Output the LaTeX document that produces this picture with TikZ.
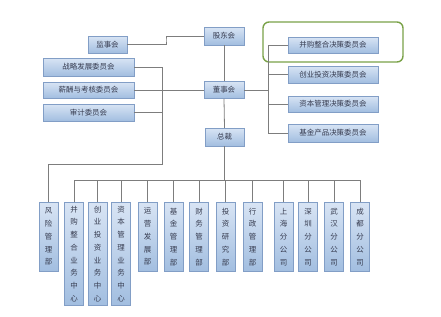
\documentclass[tikz,border=0pt]{standalone}
\usepackage{fontspec}
\setmainfont{Noto Sans CJK SC}
\definecolor{boxtop}{RGB}{216,228,244}
\definecolor{boxbot}{RGB}{162,190,224}
\definecolor{boxline}{RGB}{130,158,198}
\definecolor{boxtext}{RGB}{55,60,80}
\definecolor{linkc}{RGB}{125,125,125}
\definecolor{greenc}{RGB}{122,162,72}
\tikzset{
  box/.style={draw=boxline, line width=0.5pt, top color=boxtop, bottom color=boxbot,
    text=boxtext, inner sep=0pt, font=\fontsize{7.5}{12.8}\selectfont},
  hbox/.style={box, minimum width=#1, minimum height=17bp},
  vbox/.style={box, anchor=north, minimum width=19bp, minimum height=#1, align=center},
  link/.style={draw=linkc, line width=0.8pt},
}
\begin{document}
\begin{tikzpicture}[x=1bp,y=-1bp]
\useasboundingbox (0,0) rectangle (441,316);
% green highlight
\draw[greenc, line width=1.4pt, rounded corners=6bp] (263,22) rectangle (403,62);
% top column
\node[hbox=40bp, minimum height=18bp] (gdh) at (224,36) {股东会};
\node[hbox=39bp] (jsh) at (107.5,44.5) {监事会};
\node[hbox=40bp] (dsh) at (224,90) {董事会};
\node[hbox=39bp, minimum height=18bp] (zc) at (224.5,137) {总裁};
% left committees
\node[hbox=91bp, minimum height=18bp] (zl) at (88.5,67) {战略发展委员会};
\node[hbox=91bp, minimum height=16bp] (xc) at (88.5,90) {薪酬与考核委员会};
\node[hbox=91bp] (sj) at (88.5,112.5) {审计委员会};
% right committees
\node[hbox=90bp, minimum height=16bp] (c1) at (333,45) {并购整合决策委员会};
\node[hbox=90bp] (c2) at (333,74.5) {创业投资决策委员会};
\node[hbox=90bp, minimum height=16bp] (c3) at (333,104) {资本管理决策委员会};
\node[hbox=90bp, minimum height=18bp] (c4) at (333,133) {基金产品决策委员会};
% departments
\node[vbox=69bp] (fx) at (48.5,202) {风\\险\\管\\理\\部};
\node[vbox=103bp] (bg) at (74,202) {并\\购\\整\\合\\业\\务\\中\\心};
\node[vbox=103bp] (cy) at (97.5,202) {创\\业\\投\\资\\业\\务\\中\\心};
\node[vbox=103bp] (zb) at (121,202) {资\\本\\管\\理\\业\\务\\中\\心};
\node[vbox=69bp] (yy) at (147.5,202) {运\\营\\发\\展\\部};
\node[vbox=69bp] (jj) at (173.5,202) {基\\金\\管\\理\\部};
\node[vbox=69bp] (cw) at (199,202) {财\\务\\管\\理\\部};
\node[vbox=69bp] (tz) at (225.5,202) {投\\资\\研\\究\\部};
\node[vbox=69bp] (xz) at (252.5,202) {行\\政\\管\\理\\部};
\node[vbox=69bp] (sh) at (283.5,202) {上\\海\\分\\公\\司};
\node[vbox=69bp] (sz) at (308,202) {深\\圳\\分\\公\\司};
\node[vbox=69bp] (wh) at (334,202) {武\\汉\\分\\公\\司};
\node[vbox=69bp] (cd) at (360,202) {成\\都\\分\\公\\司};
% coordinates
\coordinate (jv) at (166,40);
\coordinate (lv) at (162,164);
\coordinate (rt) at (268,45);
\coordinate (rb) at (268,133);
\coordinate (busL) at (74,180);
\coordinate (busR) at (360,180);
% connectors
\draw[link] (jsh.east) -| (jv) |- (gdh.west);
\draw[link] (gdh.south) -- (dsh.north);
\draw[link] (dsh.south) -- (zc.north);
\draw[link] (xc.east) -- (dsh.west);
\draw[link] (zl.east) -| (lv) -| (fx.north);
\draw[link] (sj.east) -- (sj.east -| lv);
\draw[link] (rt) -- (rb);
\draw[link] (dsh.east) -- (dsh.east -| rt);
\foreach \c in {c1,c2,c3,c4} \draw[link] (\c.west) -- (\c.west -| rt);
\draw[link] (zc.south) -- (zc.south |- busL);
\draw[link] (busL) -- (busR);
\foreach \d in {bg,cy,zb,yy,jj,cw,tz,xz,sh,sz,wh,cd} \draw[link] (\d.north) -- (\d.north |- busL);
\end{tikzpicture}
\end{document}
